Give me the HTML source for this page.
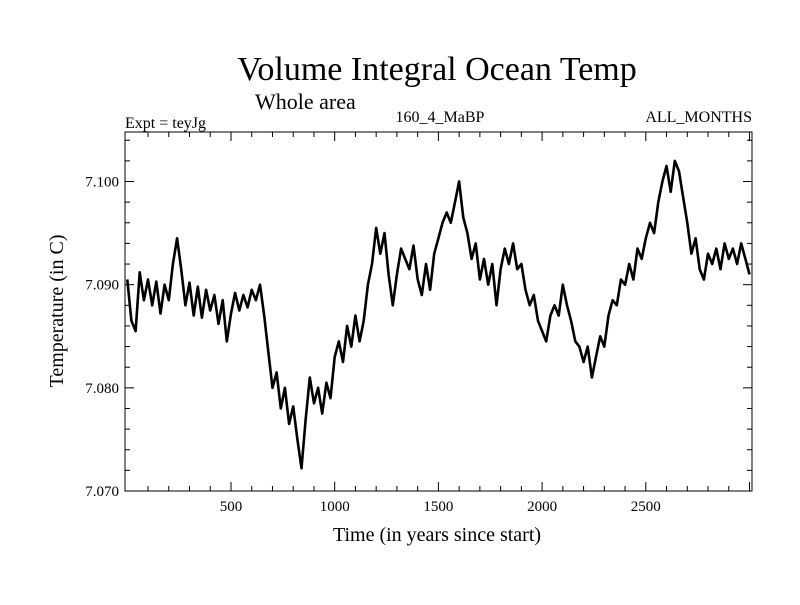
<!DOCTYPE html>
<html><head><meta charset="utf-8"><style>
body{margin:0;background:#fff;}
svg text{font-family:"Liberation Serif",serif;fill:#000;}
</style></head><body>
<svg id="chart" width="800" height="600" viewBox="0 0 800 600">
<rect width="800" height="600" fill="#fff"/>
<text x="437" y="80" font-size="34" text-anchor="middle">Volume Integral Ocean Temp</text>
<text x="255" y="109" font-size="22">Whole area</text>
<text x="125" y="128" font-size="16">Expt = teyJg</text>
<text x="440" y="122" font-size="16" text-anchor="middle">160_4_MaBP</text>
<text x="752" y="122" font-size="16" text-anchor="end">ALL_MONTHS</text>
<text x="437" y="541" font-size="20" text-anchor="middle">Time (in years since start)</text>
<text transform="translate(63,311) rotate(-90)" font-size="20" text-anchor="middle">Temperature (in C)</text>
<g id="axes"></g>
<path id="line" fill="none" stroke="#000" stroke-width="2.6" stroke-linejoin="round"/>
<rect x="125" y="132" width="627" height="359" fill="none" stroke="#000" stroke-width="1"/>
</svg>
<script>
const years0 = 0, yearStep = 20;
const temps = [7.0905,7.0865,7.0855,7.0912,7.0885,7.0905,7.0880,7.0903,7.0872,7.0900,
7.0885,7.0920,7.0945,7.0915,7.0880,7.0902,7.0870,7.0898,7.0868,7.0895,
7.0875,7.0890,7.0862,7.0885,7.0845,7.0872,7.0892,7.0875,7.0890,7.0878,
7.0895,7.0885,7.0900,7.0870,7.0835,7.0800,7.0815,7.0780,7.0800,7.0765,
7.0782,7.0750,7.0722,7.0770,7.0810,7.0785,7.0800,7.0775,7.0805,7.0790,
7.0830,7.0845,7.0825,7.0860,7.0840,7.0870,7.0845,7.0865,7.0900,7.0920,
7.0955,7.0930,7.0950,7.0910,7.0880,7.0910,7.0935,7.0925,7.0915,7.0938,
7.0905,7.0890,7.0920,7.0895,7.0930,7.0945,7.0960,7.0970,7.0960,7.0980,
7.1000,7.0965,7.0950,7.0925,7.0940,7.0905,7.0925,7.0900,7.0920,7.0880,
7.0915,7.0935,7.0920,7.0940,7.0915,7.0920,7.0895,7.0880,7.0890,7.0865,
7.0855,7.0845,7.0870,7.0880,7.0870,7.0900,7.0880,7.0865,7.0845,7.0840,
7.0825,7.0840,7.0810,7.0830,7.0850,7.0840,7.0870,7.0885,7.0880,7.0905,
7.0900,7.0920,7.0905,7.0935,7.0925,7.0945,7.0960,7.0950,7.0980,7.1000,
7.1015,7.0990,7.1020,7.1010,7.0985,7.0960,7.0930,7.0945,7.0915,7.0905,
7.0930,7.0920,7.0935,7.0915,7.0940,7.0925,7.0935,7.0920,7.0940,7.0925,7.0910];
const xTickValues = [500,1000,1500,2000,2500];
const xTickLabels = ["500","1000","1500","2000","2500"];
const yTickValues = [7.07,7.08,7.09,7.10];
const yTickLabels = ["7.070","7.080","7.090","7.100"];

const L=125,R=752,T=132,B=491, xMin=-11,xMax=3012,yMin=7.070,yMax=7.1048;
const xs=v=>L+(v-xMin)/(xMax-xMin)*(R-L);
const ys=v=>B-(v-yMin)/(yMax-yMin)*(B-T);
const NS="http://www.w3.org/2000/svg";
const axes=document.getElementById('axes');
function ln(x1,y1,x2,y2){const e=document.createElementNS(NS,'line');
e.setAttribute('x1',x1);e.setAttribute('y1',y1);e.setAttribute('x2',x2);e.setAttribute('y2',y2);
e.setAttribute('stroke','#000');e.setAttribute('stroke-width','1');


axes.appendChild(e);}
function tx(x,y,s,anchor,name){const e=document.createElementNS(NS,'text');
e.setAttribute('x',x);e.setAttribute('y',y);e.setAttribute('font-size','15');e.setAttribute('text-anchor',anchor);
e.textContent=s;


axes.appendChild(e);}
for(let v=100;v<3012;v+=100){const x=xs(v);const major=v%500===0;const len=major?9:5;
ln(x,B,x,B-len);ln(x,T,x,T+len);}
for(let v=7.070;v<7.1048;v+=0.002){const y=ys(v);const major=Math.abs(Math.round(v*100)-v*100)<1e-6;const len=major?9:5;
ln(L,y,L+len,y);ln(R,y,R-len,y);}
xTickValues.forEach((v,i)=>tx(xs(v),511,xTickLabels[i],'middle','x-tick-label'));
yTickValues.forEach((v,i)=>tx(L-6,ys(v)+5,yTickLabels[i],'end','y-tick-label'));
let d='';temps.forEach((v,i)=>{d+=(i?'L':'M')+xs(years0+i*yearStep).toFixed(1)+','+ys(v).toFixed(1);});
document.getElementById('line').setAttribute('d',d);
</script>
</body></html>
